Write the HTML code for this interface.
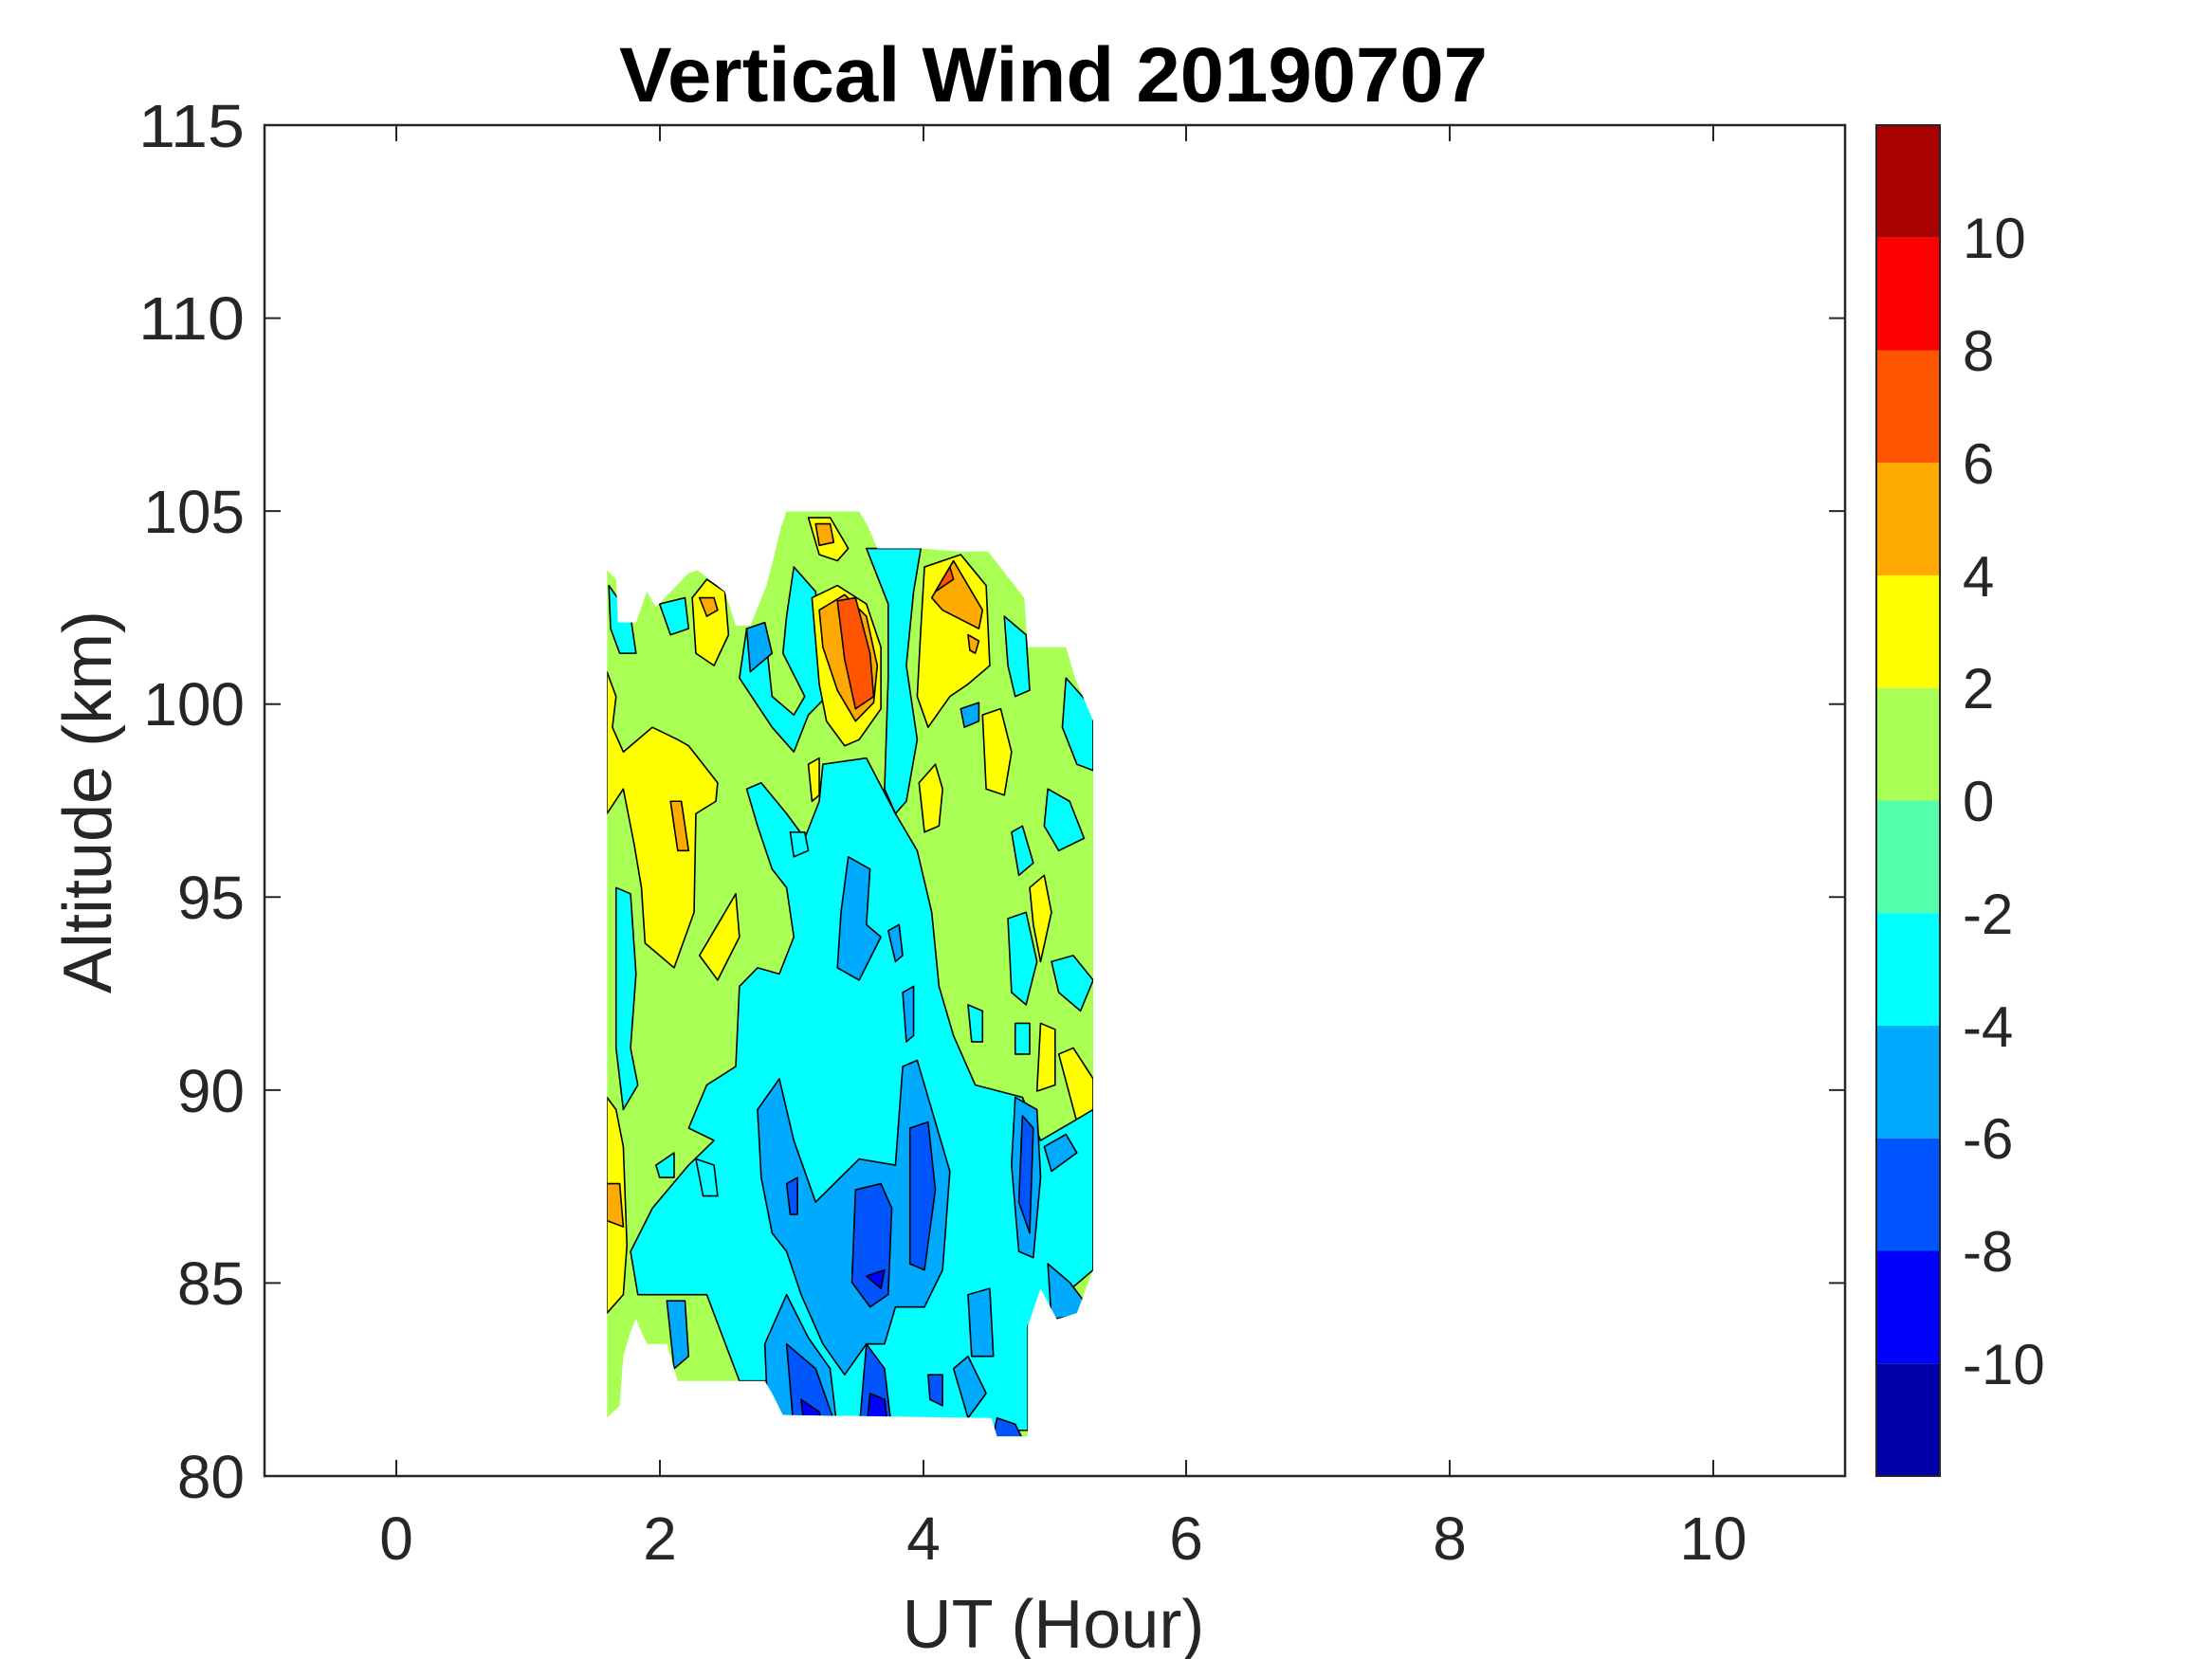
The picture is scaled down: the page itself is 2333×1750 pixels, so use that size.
<!DOCTYPE html>
<html><head><meta charset="utf-8"><style>
html,body{margin:0;padding:0;background:#fff}
svg{display:block}
text{font-family:"Liberation Sans",sans-serif;fill:#262626}
.d polygon{vector-effect:non-scaling-stroke}
</style></head><body>
<svg width="2333" height="1750" viewBox="0 0 2333 1750" xmlns="http://www.w3.org/2000/svg">
<defs>
<clipPath id="dc"><polygon points="105,125 130,140 135,210 185,210 215,160 240,185 330,130 355,125 430,160 460,215 500,215 545,150 585,55 600,30 800,30 825,55 850,90 970,90 1075,95 1155,95 1255,170 1265,250 1370,250 1395,300 1445,370 1445,1260 1400,1330 1345,1340 1300,1290 1265,1350 1265,1530 1180,1530 1165,1500 590,1495 560,1460 540,1440 300,1440 270,1380 215,1380 185,1340 170,1360 150,1400 140,1480 105,1500"/></clipPath>
</defs>
<rect width="2333" height="1750" fill="#fff"/>
<g class="d" transform="translate(600,520) scale(0.3827,0.6505)" clip-path="url(#dc)" stroke="#000" stroke-width="1.6" stroke-linejoin="round">
<rect x="0" y="0" width="1600" height="1600" fill="#aaff55" stroke="none"/>
<g fill="#ffff00">
<polygon points="105,290 130,330 120,380 150,420 230,380 300,400 330,410 410,470 405,500 350,520 345,680 290,770 210,730 200,640 180,570 150,480 105,520"/>
<polygon points="105,980 130,1000 150,1060 160,1220 150,1300 105,1330"/>
<polygon points="360,750 460,650 470,720 410,790"/>
<polygon points="340,170 380,140 430,160 440,230 400,280 350,260"/>
<polygon points="965,470 1010,440 1030,480 1020,540 980,550"/>
<polygon points="1140,360 1190,350 1220,420 1200,490 1150,480"/>
<polygon points="1270,640 1310,620 1330,680 1300,760 1280,700"/>
<polygon points="1300,860 1340,870 1340,960 1290,970"/>
<polygon points="1350,910 1390,900 1445,950 1445,1040 1400,1020"/>
<polygon points="550,530 580,510 590,560 570,610"/>
<polygon points="660,440 690,430 690,490 670,500"/>
<polygon points="1380,1130 1410,1120 1420,1200 1400,1210"/>
</g>
<g fill="#00ffff">
<polygon points="700,440 820,430 900,520 960,580 1000,680 1020,800 1060,880 1120,960 1250,980 1300,1050 1445,1000 1445,1260 1265,1350 1265,1520 600,1520 560,1440 470,1440 380,1300 190,1300 170,1230 230,1160 330,1090 400,1050 330,1030 380,960 460,930 470,800 520,770 580,780 620,720 600,640 560,610 520,540 490,480 530,470 600,520 650,560 690,500"/>
<polygon points="130,640 170,650 185,780 170,900 190,960 150,1000 130,900"/>
<polygon points="470,300 490,220 540,220 560,330 620,360 650,330 590,260 600,200 620,120 680,160 700,290 710,330 660,360 620,420 560,380"/>
<polygon points="820,90 970,90 950,160 930,280 960,400 930,500 900,520 870,480 880,300 880,180"/>
<polygon points="1200,200 1260,230 1270,320 1230,330 1210,280"/>
<polygon points="1370,300 1445,350 1445,450 1400,440 1360,380"/>
<polygon points="1320,480 1380,500 1420,560 1350,580 1310,540"/>
<polygon points="110,150 170,200 185,260 140,260 115,220"/>
<polygon points="250,180 320,170 330,220 280,230"/>
<polygon points="1210,690 1260,680 1290,760 1260,830 1220,810"/>
<polygon points="1330,760 1390,750 1445,790 1410,840 1350,810"/>
<polygon points="1220,550 1250,540 1280,600 1240,620"/>
<polygon points="1100,830 1140,840 1140,890 1110,890"/>
<polygon points="1230,860 1270,860 1270,910 1230,910"/>
<polygon points="610,550 650,550 660,580 620,590"/>
<polygon points="350,1080 400,1090 410,1140 370,1140"/>
<polygon points="240,1090 290,1070 290,1110 250,1110"/>
</g>
<g fill="#00aaff">
<polygon points="520,1000 580,950 620,1050 680,1150 800,1080 900,1090 920,930 960,920 1000,1000 1050,1100 1030,1260 980,1320 900,1320 870,1380 820,1380 760,1430 700,1380 640,1300 600,1230 560,1200 530,1110"/>
<polygon points="540,1380 600,1300 660,1370 720,1420 740,1520 550,1520"/>
<polygon points="770,590 830,610 820,700 860,720 800,790 740,770 750,680"/>
<polygon points="1230,980 1290,1000 1300,1110 1280,1240 1240,1230 1220,1090"/>
<polygon points="1310,1060 1370,1040 1400,1070 1330,1100"/>
<polygon points="490,220 540,210 560,260 500,290"/>
<polygon points="270,1310 320,1310 330,1400 290,1420"/>
<polygon points="1100,1300 1160,1290 1170,1400 1110,1400"/>
<polygon points="1060,1420 1100,1400 1150,1460 1100,1500"/>
<polygon points="1080,350 1130,340 1130,370 1090,380"/>
<polygon points="880,710 910,700 920,750 900,760"/>
<polygon points="920,810 950,800 950,880 930,890"/>
<polygon points="1320,1250 1380,1280 1445,1330 1330,1340"/>
</g>
<g fill="#0055ff">
<polygon points="790,1130 860,1120 890,1160 880,1300 830,1320 780,1280"/>
<polygon points="940,1030 990,1020 1010,1130 980,1260 940,1250"/>
<polygon points="600,1380 680,1420 740,1520 620,1520"/>
<polygon points="820,1380 870,1420 890,1520 800,1520"/>
<polygon points="1250,1010 1280,1030 1270,1200 1240,1150"/>
<polygon points="1180,1500 1230,1510 1255,1540 1165,1540"/>
<polygon points="600,1120 630,1110 630,1170 610,1170"/>
<polygon points="990,1430 1030,1430 1030,1480 995,1470"/>
</g>
<g fill="#0000ff">
<polygon points="820,1270 870,1260 860,1290"/>
<polygon points="640,1470 690,1490 700,1520 650,1520"/>
<polygon points="830,1460 870,1470 880,1520 820,1520"/>
</g>
<g fill="#ffff00">
<polygon points="670,170 740,150 820,180 860,250 860,350 800,400 760,410 710,370 690,310"/>
<polygon points="980,120 1080,100 1150,150 1160,280 1100,310 1050,330 990,380 960,330 970,220"/>
<polygon points="660,40 720,40 770,90 740,110 690,100"/>
</g>
<g fill="#ffaa00">
<polygon points="690,190 760,165 820,200 850,280 840,340 790,370 740,320 700,250"/>
<polygon points="1000,170 1060,110 1140,190 1130,220 1030,190"/>
<polygon points="680,50 720,50 730,80 690,85"/>
<polygon points="280,500 310,500 330,580 300,580"/>
<polygon points="360,170 400,170 410,190 380,200"/>
<polygon points="105,1120 140,1120 150,1190 105,1180"/>
<polygon points="1100,230 1130,240 1120,260 1105,255"/>
</g>
<g fill="#ff5500">
<polygon points="740,175 790,170 830,260 840,330 790,350 760,270"/>
<polygon points="1010,160 1050,120 1060,140"/>
</g>
</g>
<g stroke="#262626" stroke-width="2.5" fill="none">
<rect x="279" y="132" width="1667" height="1425"/>
</g>
<g stroke="#262626" stroke-width="2">
<line x1="418" y1="1557" x2="418" y2="1540"/><line x1="418" y1="132" x2="418" y2="149"/>
<line x1="696" y1="1557" x2="696" y2="1540"/><line x1="696" y1="132" x2="696" y2="149"/>
<line x1="974" y1="1557" x2="974" y2="1540"/><line x1="974" y1="132" x2="974" y2="149"/>
<line x1="1251" y1="1557" x2="1251" y2="1540"/><line x1="1251" y1="132" x2="1251" y2="149"/>
<line x1="1529" y1="1557" x2="1529" y2="1540"/><line x1="1529" y1="132" x2="1529" y2="149"/>
<line x1="1807" y1="1557" x2="1807" y2="1540"/><line x1="1807" y1="132" x2="1807" y2="149"/>
<line x1="279" y1="335.6" x2="296" y2="335.6"/><line x1="1946" y1="335.6" x2="1929" y2="335.6"/>
<line x1="279" y1="539.1" x2="296" y2="539.1"/><line x1="1946" y1="539.1" x2="1929" y2="539.1"/>
<line x1="279" y1="742.7" x2="296" y2="742.7"/><line x1="1946" y1="742.7" x2="1929" y2="742.7"/>
<line x1="279" y1="946.3" x2="296" y2="946.3"/><line x1="1946" y1="946.3" x2="1929" y2="946.3"/>
<line x1="279" y1="1149.9" x2="296" y2="1149.9"/><line x1="1946" y1="1149.9" x2="1929" y2="1149.9"/>
<line x1="279" y1="1353.4" x2="296" y2="1353.4"/><line x1="1946" y1="1353.4" x2="1929" y2="1353.4"/>
</g>
<g font-size="64" text-anchor="middle">
<text x="418" y="1645">0</text><text x="696" y="1645">2</text><text x="974" y="1645">4</text>
<text x="1251" y="1645">6</text><text x="1529" y="1645">8</text><text x="1807" y="1645">10</text>
</g>
<g font-size="64" text-anchor="end">
<text x="258" y="155" textLength="112" lengthAdjust="spacingAndGlyphs">115</text><text x="258" y="358" textLength="112" lengthAdjust="spacingAndGlyphs">110</text><text x="258" y="562">105</text>
<text x="258" y="765">100</text><text x="258" y="969">95</text><text x="258" y="1173">90</text>
<text x="258" y="1376">85</text><text x="258" y="1580">80</text>
</g>
<text x="1111" y="1738" font-size="72" text-anchor="middle">UT (Hour)</text>
<text x="0" y="0" font-size="72" text-anchor="middle" transform="translate(117,846) rotate(-90)">Altitude (km)</text>
<text x="1111" y="107" font-size="82" font-weight="bold" text-anchor="middle" style="fill:#000" textLength="916" lengthAdjust="spacingAndGlyphs">Vertical Wind 20190707</text>
<g>
<rect x="1979" y="132" width="67" height="118.75" fill="#aa0000"/>
<rect x="1979" y="250.75" width="67" height="118.75" fill="#ff0000"/>
<rect x="1979" y="369.5" width="67" height="118.75" fill="#ff5500"/>
<rect x="1979" y="488.25" width="67" height="118.75" fill="#ffaa00"/>
<rect x="1979" y="607" width="67" height="118.75" fill="#ffff00"/>
<rect x="1979" y="725.75" width="67" height="118.75" fill="#aaff55"/>
<rect x="1979" y="844.5" width="67" height="118.75" fill="#55ffaa"/>
<rect x="1979" y="963.25" width="67" height="118.75" fill="#00ffff"/>
<rect x="1979" y="1082" width="67" height="118.75" fill="#00aaff"/>
<rect x="1979" y="1200.75" width="67" height="118.75" fill="#0055ff"/>
<rect x="1979" y="1319.5" width="67" height="118.75" fill="#0000ff"/>
<rect x="1979" y="1438.25" width="67" height="118.75" fill="#0000aa"/>
<rect x="1979" y="132" width="67" height="1425" fill="none" stroke="#262626" stroke-width="2"/>
</g>
<g font-size="60">
<text x="2070" y="272">10</text><text x="2070" y="391">8</text><text x="2070" y="510">6</text>
<text x="2070" y="629">4</text><text x="2070" y="747">2</text><text x="2070" y="866">0</text>
<text x="2070" y="985">-2</text><text x="2070" y="1104">-4</text><text x="2070" y="1222">-6</text>
<text x="2070" y="1341">-8</text><text x="2070" y="1460">-10</text>
</g>
</svg>
</body></html>
